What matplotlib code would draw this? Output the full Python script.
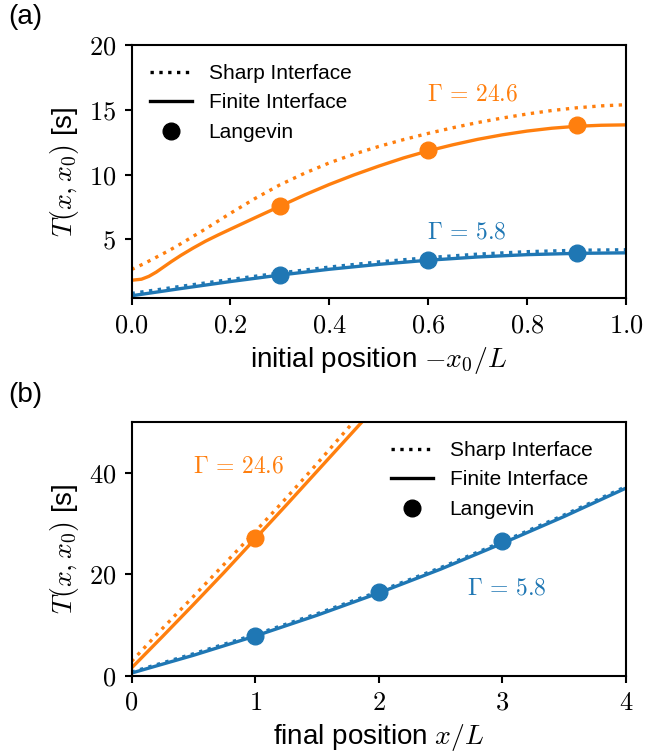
import numpy as np
import matplotlib
matplotlib.use('Agg')
import matplotlib.pyplot as plt
from matplotlib.lines import Line2D
from matplotlib.ticker import FormatStrFormatter

plt.rcParams['font.family'] = ['Liberation Sans', 'DejaVu Sans']
plt.rcParams['mathtext.fontset'] = 'cm'

ORANGE = '#ff7f0e'
BLUE = '#1f77b4'

# ---- panel (a): initial position -x0/L ----
xa_orange_f = [0, 0.02, 0.035, 0.05, 0.065, 0.08, 0.1, 0.125, 0.15, 0.175, 0.2, 0.25,
               0.3, 0.35, 0.4, 0.45, 0.5, 0.55, 0.6, 0.65, 0.7, 0.75, 0.8, 0.85, 0.9, 0.95, 1.0]
a_orange_finite = [1.82, 1.90, 2.12, 2.45, 2.85, 3.25, 3.75, 4.32, 4.85, 5.32, 5.77, 6.66,
                   7.54, 8.42, 9.23, 9.97, 10.65, 11.28, 11.83, 12.30, 12.72, 13.07, 13.36,
                   13.58, 13.73, 13.81, 13.84]
xa_orange_s = [0, 0.025, 0.05, 0.075, 0.1, 0.15, 0.2, 0.25, 0.3, 0.35, 0.4, 0.45,
               0.5, 0.55, 0.6, 0.65, 0.7, 0.75, 0.8, 0.85, 0.9, 0.95, 1.0]
a_orange_sharp = [2.65, 3.10, 3.60, 4.10, 4.65, 5.80, 7.00, 8.15, 9.20, 10.10, 10.90, 11.58,
                  12.17, 12.70, 13.18, 13.62, 14.02, 14.37, 14.68, 14.95, 15.16, 15.31, 15.40]

xa_blue = [0, 0.1, 0.2, 0.3, 0.4, 0.5, 0.6, 0.7, 0.8, 0.9, 1.0]
a_blue_finite = [0.62, 1.18, 1.72, 2.22, 2.67, 3.05, 3.37, 3.62, 3.80, 3.90, 3.94]
a_blue_sharp = [0.80, 1.35, 1.88, 2.38, 2.84, 3.24, 3.57, 3.84, 4.03, 4.14, 4.18]

xa_lang = [0.3, 0.6, 0.9]
a_lang_orange = [7.6, 11.9, 13.8]
a_lang_blue = [2.2, 3.4, 3.9]

# ---- panel (b): final position x/L ----
xb_orange = [0, 0.25, 0.5, 0.75, 1.0, 1.25, 1.5, 1.75, 2.0]
b_orange_finite = [1.5, 7.7, 14.0, 20.4, 27.0, 33.6, 40.3, 47.0, 53.7]
b_orange_sharp = [2.8, 9.3, 15.6, 22.0, 28.4, 35.0, 41.8, 48.8, 55.8]

xb_blue = [0, 0.5, 1.0, 1.5, 2.0, 2.5, 3.0, 3.5, 4.0]
b_blue_finite = [0.5, 4.0, 7.8, 11.9, 16.3, 21.0, 26.1, 31.4, 37.0]
b_blue_sharp = [0.7, 4.3, 8.1, 12.2, 16.6, 21.3, 26.4, 31.7, 37.3]

xb_lang_orange = [1.0]
b_lang_orange = [27.2]
xb_lang_blue = [1.0, 2.0, 3.0]
b_lang_blue = [7.8, 16.5, 26.5]

LW = 2.4
MS = 12

fig = plt.figure(figsize=(6.48, 7.54), dpi=100)
ax1 = fig.add_axes([0.203, 0.605, 0.763, 0.335])
ax2 = fig.add_axes([0.203, 0.104, 0.763, 0.336])


def style_axes(ax):
    for s in ['top', 'right', 'left', 'bottom']:
        ax.spines[s].set_linewidth(1.5)
    ax.tick_params(direction='out', length=5, width=1.5, labelsize=19, pad=6)


# panel (a)
ax1.plot(xa_orange_s, a_orange_sharp, ':', color=ORANGE, lw=LW)
ax1.plot(xa_orange_f, a_orange_finite, '-', color=ORANGE, lw=LW)
ax1.plot(xa_lang, a_lang_orange, 'o', color=ORANGE, ms=MS)
ax1.plot(xa_blue, a_blue_sharp, ':', color=BLUE, lw=LW)
ax1.plot(xa_blue, a_blue_finite, '-', color=BLUE, lw=LW)
ax1.plot(xa_lang, a_lang_blue, 'o', color=BLUE, ms=MS)
ax1.text(0.598, 16.2, r'$\Gamma\,=\,24.6$', color=ORANGE, fontsize=17, va='center')
ax1.text(0.598, 5.55, r'$\Gamma\,=\,5.8$', color=BLUE, fontsize=17, va='center')
ax1.set_xlim(0, 1)
ax1.set_ylim(0.46, 20)
ax1.set_xticks([0, 0.2, 0.4, 0.6, 0.8, 1.0])
ax1.set_yticks([5, 10, 15, 20])
ax1.xaxis.set_major_formatter(FormatStrFormatter('$%.1f$'))
ax1.yaxis.set_major_formatter(FormatStrFormatter('$%d$'))
ax1.set_xlabel(r'initial position $-x_0/L$', fontsize=20, labelpad=6)
ax1.set_ylabel(r'$T(x,x_0)$ [s]', fontsize=20, labelpad=6)
style_axes(ax1)

# panel (b)
ax2.plot(xb_orange, b_orange_sharp, ':', color=ORANGE, lw=LW)
ax2.plot(xb_orange, b_orange_finite, '-', color=ORANGE, lw=LW)
ax2.plot(xb_lang_orange, b_lang_orange, 'o', color=ORANGE, ms=MS)
ax2.plot(xb_blue, b_blue_sharp, ':', color=BLUE, lw=LW)
ax2.plot(xb_blue, b_blue_finite, '-', color=BLUE, lw=LW)
ax2.plot(xb_lang_blue, b_lang_blue, 'o', color=BLUE, ms=MS)
ax2.text(0.5, 41.2, r'$\Gamma\,=\,24.6$', color=ORANGE, fontsize=17, va='center')
ax2.text(2.71, 17.2, r'$\Gamma\,=\,5.8$', color=BLUE, fontsize=17, va='center')
ax2.set_xlim(0, 4)
ax2.set_ylim(0, 50)
ax2.set_xticks([0, 1, 2, 3, 4])
ax2.set_yticks([0, 20, 40])
ax2.xaxis.set_major_formatter(FormatStrFormatter('$%d$'))
ax2.yaxis.set_major_formatter(FormatStrFormatter('$%d$'))
ax2.set_xlabel(r'final position $x/L$', fontsize=20, labelpad=5)
ax2.set_ylabel(r'$T(x,x_0)$ [s]', fontsize=20, labelpad=6)
style_axes(ax2)

handles = [
    Line2D([], [], color='black', ls=':', lw=LW),
    Line2D([], [], color='black', ls='-', lw=LW),
    Line2D([], [], color='black', ls='none', marker='o', ms=MS),
]
labels = ['Sharp Interface', 'Finite Interface', 'Langevin']
ax1.legend(handles, labels, loc='upper left', frameon=False, fontsize=15)
ax2.legend(handles, labels, loc='upper right', bbox_to_anchor=(0.97, 1.0),
           frameon=False, fontsize=15)

fig.text(0.012, 0.995, '(a)', fontsize=20, va='top', ha='left')
fig.text(0.012, 0.494, '(b)', fontsize=20, va='top', ha='left')

fig.savefig('out.png', dpi=100)
